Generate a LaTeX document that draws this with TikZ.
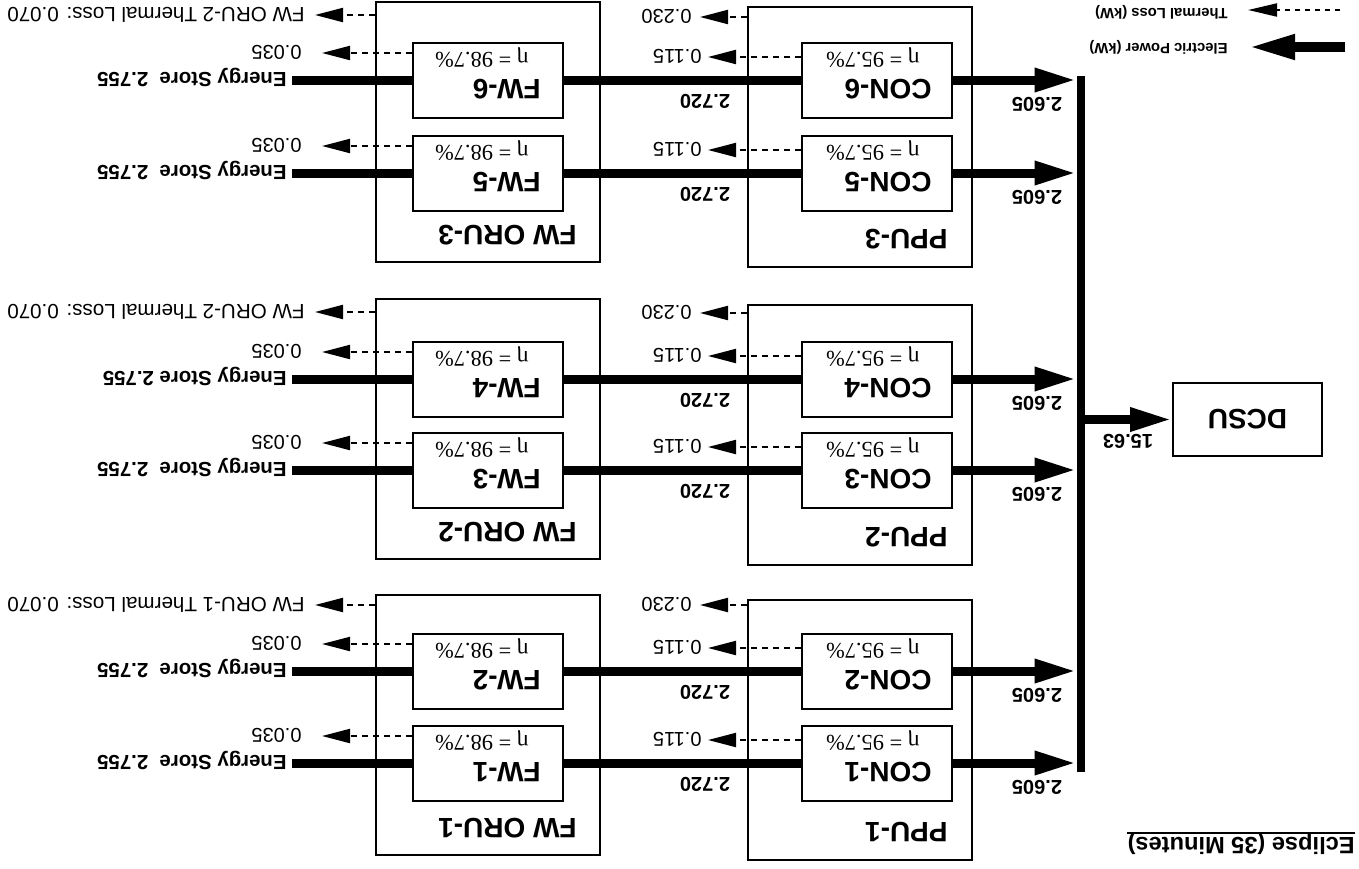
\documentclass[tikz,border=0pt]{standalone}
\usepackage{fontspec}
\setmainfont{Liberation Sans}
\newfontfamily\etafont{Liberation Serif}
\usetikzlibrary{arrows.meta}
\begin{document}
\begin{tikzpicture}[x=0.5pt,y=0.5pt,
  box/.style={draw, line width=1pt, inner sep=0pt},
  conbox/.style={box, minimum width=75pt, minimum height=37.5pt},
  grpbox/.style={box, minimum width=112pt, minimum height=130pt},
  nm/.style={inner sep=0pt, font=\bfseries\fontsize{14pt}{16pt}\selectfont, text height=10pt, text depth=0pt},
  etal/.style={inner sep=0pt, font=\etafont\fontsize{11.2pt}{13pt}\selectfont, text height=7.6pt, text depth=0pt},
  num/.style={inner sep=0pt, font=\bfseries\fontsize{10pt}{12pt}\selectfont, text height=7.2pt, text depth=0pt},
  tl/.style={inner sep=0pt, font=\fontsize{10pt}{12pt}\selectfont, text height=7.2pt, text depth=0pt},
  tlw/.style={inner sep=0pt, font=\fontsize{10.3pt}{12pt}\selectfont, text height=7.4pt, text depth=0pt},
  esl/.style={inner sep=0pt, font=\bfseries\fontsize{10.2pt}{12pt}\selectfont, text height=7.3pt, text depth=0pt},
  legl/.style={inner sep=0pt, font=\bfseries\fontsize{7.4pt}{9pt}\selectfont, text height=5.3pt, text depth=0pt},
  ttl/.style={inner sep=0pt, font=\bfseries\fontsize{11.8pt}{14pt}\selectfont, text height=8.5pt, text depth=0pt},
  power/.style={line width=4.5pt},
  powerarrow/.style={line width=4.5pt, -{Triangle[length=21pt,width=11pt]}},
  therm/.style={line width=1pt, dash pattern=on 3pt off 2.5pt, -{Triangle[length=14pt,width=7pt]}},
]
\useasboundingbox (0,0) rectangle (1359,-868);
\begin{scope}[rotate around={180:(679.5,-434)}, transform shape]

% title
\node[ttl, anchor=west] (title) at (4,-22) {Eclipse (35 Minutes)};
\coordinate (ul) at (0,-35);
\draw[line width=1pt] (title.west |- ul) -- (title.east |- ul);

% legend
\node[legl, anchor=west] (legT) at (131,-854) {Thermal Loss (kW)};
\node[legl, anchor=west] (legE) at (131,-819) {Electric Power (kW)};
\coordinate (legTs) at (19,-858);
\coordinate (legEs) at (14,-821);
\draw[line width=1pt, dash pattern=on 2.5pt off 2.5pt, -{Triangle[length=14.5pt,width=6.5pt]}, shorten >=10pt] (legTs) -- (legTs -| legT.west);
\draw[line width=5pt, -{Triangle[length=23.5pt,width=11.5pt]}, shorten >=10pt] (legEs) -- (legEs -| legE.west);

% DCSU and bus
\node[box, minimum width=74.5pt, minimum height=36.5pt, font=\bfseries\fontsize{14pt}{16pt}\selectfont] (dcsu) at (111.5,-448.5) {DCSU};
\node[fill, inner sep=0pt, minimum width=4pt, minimum height=348pt] (bus) at (278,-444) {};
\draw[powerarrow] (bus.west |- dcsu.east) -- (dcsu.east);
\node[num] (l1563) at (231,-426) {15.63};

% groups
\foreach \gi/\pc/\oc/\tp/\ot/\tn in {1/138/143/263/263/1, 2/433/439/555/556/2, 3/731/736/851/853/2}{
  \node[grpbox] (ppu\gi) at (499,-\pc) {};
  \node[nm, anchor=west] (ppulab\gi) at (411,-\pc+102) {PPU-\gi};
  \node[grpbox] (oru\gi) at (871,-\oc) {};
  \node[nm, anchor=west] (orulab\gi) at (782,-\oc+103) {FW ORU-\gi};
  \coordinate (pt\gi) at (659,-\tp);
  \draw[therm] (ppu\gi.east |- pt\gi) -- (pt\gi);
  \node[tl, anchor=west] (l0230\gi) at (667,-\tp) {0.230};
  \coordinate (otp\gi) at (1044,-\ot);
  \draw[therm] (oru\gi.east |- otp\gi) -- (otp\gi);
  \node[tlw, anchor=west] (orutl\gi) at (1054,-\ot) {FW ORU-\tn\ Thermal Loss: 0.070};
}

% rows
\foreach \kk/\rr/\est in {1/105/{Energy Store\ \ 2.755}, 2/197/{Energy Store\ \ 2.755}, 3/398/{Energy Store\ \ 2.755}, 4/489/{Energy Store 2.755}, 5/695/{Energy Store\ \ 2.755}, 6/788/{Energy Store\ \ 2.755}}{
  \node[conbox] (con\kk) at (482,-\rr) {};
  \node[nm, anchor=west] (conlab\kk) at (427,-\rr+9) {CON-\kk};
  \node[etal, anchor=west] (coneta\kk) at (439,-\rr-20) {η = 95.7\%};
  \node[conbox] (fw\kk) at (871,-\rr) {};
  \node[nm, anchor=west] (fwlab\kk) at (818,-\rr+9) {FW-\kk};
  \node[etal, anchor=west] (fweta\kk) at (830,-\rr-20) {η = 98.7\%};
  \draw[power] (fw\kk.west) -- (con\kk.east);
  \draw[powerarrow] (con\kk.west) -- (con\kk.west -| bus.east);
  \node[num] (l2720\kk) at (654,-\rr+21.5) {2.720};
  \node[num] (l2605\kk) at (322,-\rr+25) {2.605};
  \coordinate (ct\kk) at (651,-\rr-23);
  \draw[therm] (con\kk.east |- ct\kk) -- (ct\kk);
  \node[tl, anchor=west] (l0115\kk) at (657,-\rr-23) {0.115};
  \coordinate (ft\kk) at (1037,-\rr-27);
  \draw[therm] (fw\kk.east |- ft\kk) -- (ft\kk);
  \node[tl, anchor=west] (l0035\kk) at (1057,-\rr-27) {0.035};
  \node[esl, anchor=west] (es\kk) at (1072,-\rr) {\est};
  \draw[power, shorten >=2.5pt] (fw\kk.east) -- (es\kk.west);
}
\end{scope}
\end{tikzpicture}
\end{document}
